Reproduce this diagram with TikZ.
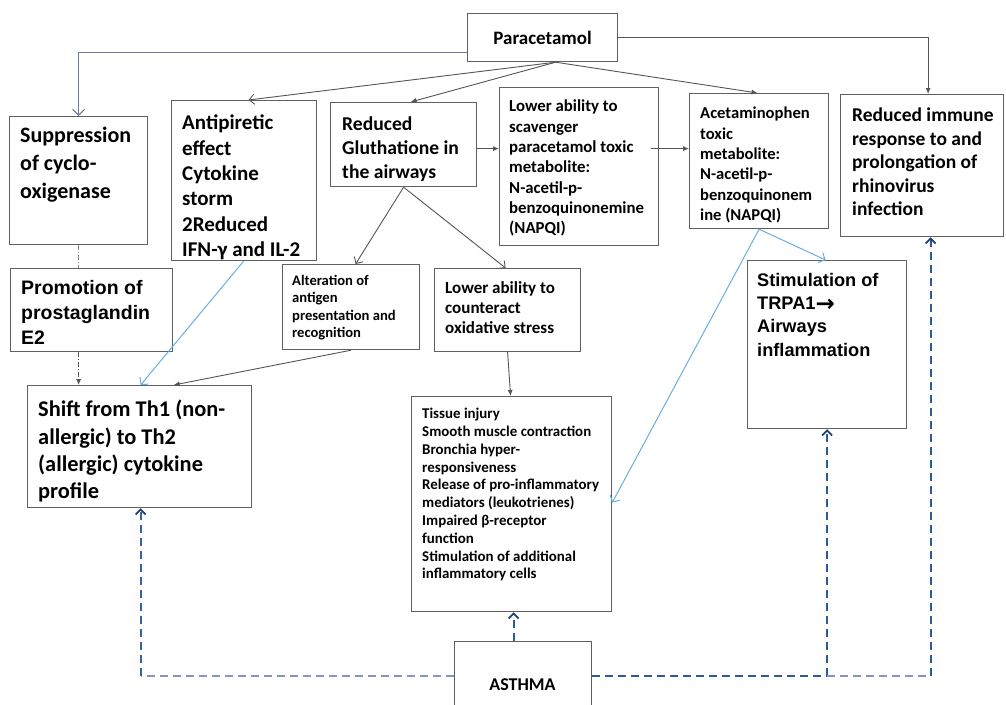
\documentclass[tikz,border=0pt]{standalone}
\usepackage{fontspec}
\setmainfont{Carlito}
\newfontfamily\arialf{Liberation Sans}
\newfontfamily\dejaf{DejaVu Sans}
\usetikzlibrary{arrows.meta,calc}
\definecolor{boxc}{HTML}{606060}
\definecolor{arrc}{HTML}{555555}
\definecolor{slate}{HTML}{6A7A98}
\definecolor{lblue}{HTML}{6AAEE6}
\definecolor{dblue}{HTML}{2D5A97}
\definecolor{mblue}{HTML}{8296C2}
\definecolor{navy}{HTML}{1F3F7A}
\begin{document}
\begin{tikzpicture}[x=1pt,y=-1pt,
 boxs/.style={draw=boxc, line width=1.2pt, fill=white, inner sep=0pt, anchor=north west},
 txt/.style={anchor=north west, inner sep=0pt, align=left},
 garr/.style={draw=arrc, line width=0.9pt, -{Latex[length=6pt,width=5pt]}},
 varr/.style={draw=arrc, line width=0.9pt, -{Straight Barb[length=5pt,width=10pt]}},
 barr/.style={draw=lblue, line width=1pt, -{Straight Barb[length=5pt,width=11pt]}},
 dsh/.style={line width=2pt, dash pattern=on 8pt off 5pt},
 dtip/.style={-{Straight Barb[color=navy,length=5pt,width=10pt,line width=1.8pt]}}
]
\fill[white] (0,0) rectangle (1006,704);
\useasboundingbox (0,0) rectangle (1006,704);

% boxes
\node[boxs, minimum width=150pt, minimum height=48pt] (par) at (467,13) {};
\node[boxs, minimum width=138pt, minimum height=128pt] (sup) at (9,116) {};
\node[boxs, minimum width=145pt, minimum height=160pt] (anti) at (171,100) {};
\node[boxs, minimum width=146pt, minimum height=84pt] (glu) at (330,102) {};
\node[boxs, minimum width=159pt, minimum height=158pt] (sca) at (499,87) {};
\node[boxs, minimum width=139pt, minimum height=135pt] (ace) at (689,93) {};
\node[boxs, minimum width=163pt, minimum height=142pt] (imm) at (840,94) {};
\node[boxs, minimum width=162pt, minimum height=83pt] (pro) at (10,268) {};
\node[boxs, minimum width=137pt, minimum height=85pt] (alt) at (282,264) {};
\node[boxs, minimum width=146pt, minimum height=83pt] (cou) at (434,268) {};
\node[boxs, minimum width=159pt, minimum height=168pt] (trp) at (747,260) {};
\node[boxs, minimum width=224pt, minimum height=122pt] (shi) at (27,385) {};
\node[boxs, minimum width=200pt, minimum height=215pt] (tis) at (411,396) {};
\node[boxs, minimum width=137pt, minimum height=99pt] (ast) at (454,641) {};

% texts
\node[inner sep=0pt, font=\bfseries\fontsize{19}{22}\selectfont] (par-t) at (par.center) {Paracetamol};
\node[txt, font=\bfseries\fontsize{22}{28}\selectfont] (sup-t) at ([xshift=11pt,yshift=-11pt]sup.north west)
 {Suppression\\of cyclo-\\oxigenase};
\node[txt, font=\bfseries\fontsize{21}{25.3}\selectfont] (anti-t) at ([xshift=11pt,yshift=-15pt]anti.north west)
 {Antipiretic\\effect\\Cytokine\\storm\\2Reduced\\IFN-γ and IL-2};
\node[txt, font=\bfseries\fontsize{19.6}{23.7}\selectfont] (glu-t) at ([xshift=12pt,yshift=-15pt]glu.north west)
 {Reduced\\Gluthatione in\\the airways};
\node[txt, font=\bfseries\fontsize{16.8}{20.3}\selectfont] (sca-t) at ([xshift=10pt,yshift=-13pt]sca.north west)
 {Lower ability to\\scavenger\\paracetamol toxic\\metabolite:\\N-acetil-p-\\benzoquinonemine\\(NAPQI)};
\node[txt, font=\bfseries\fontsize{16.6}{20.3}\selectfont] (ace-t) at ([xshift=11pt,yshift=-14pt]ace.north west)
 {Acetaminophen\\toxic\\metabolite:\\N-acetil-p-\\benzoquinonem\\ine (NAPQI)};
\node[txt, font=\bfseries\fontsize{19.5}{23.4}\selectfont] (imm-t) at ([xshift=12pt,yshift=-14pt]imm.north west)
 {Reduced immune\\response to and\\prolongation of\\rhinovirus\\infection};
\node[txt, font=\arialf\bfseries\fontsize{19.5}{25}\selectfont] (pro-t) at ([xshift=11pt,yshift=-12pt]pro.north west)
 {Promotion of\\prostaglandin\\E2};
\node[txt, font=\bfseries\fontsize{14.6}{17.3}\selectfont] (alt-t) at ([xshift=10pt,yshift=-11pt]alt.north west)
 {Alteration of\\antigen\\presentation and\\recognition};
\node[txt, font=\bfseries\fontsize{17}{20}\selectfont] (cou-t) at ([xshift=11pt,yshift=-13pt]cou.north west)
 {Lower ability to\\counteract\\oxidative stress};
\node[txt, font=\arialf\bfseries\fontsize{18.2}{23.3}\selectfont] (trp-t) at ([xshift=10pt,yshift=-13pt]trp.north west)
 {Stimulation of\\TRPA1\raisebox{-1.5pt}{\dejaf\fontsize{23}{23}\selectfont →}\\Airways\\inflammation};
\node[txt, font=\bfseries\fontsize{22.4}{27.3}\selectfont] (shi-t) at ([xshift=11pt,yshift=-15pt]shi.north west)
 {Shift from Th1 (non-\\allergic) to Th2\\(allergic) cytokine\\profile};
\node[txt, font=\bfseries\fontsize{14.9}{17.8}\selectfont] (tis-t) at ([xshift=11pt,yshift=-12pt]tis.north west)
 {Tissue injury\\Smooth muscle contraction\\Bronchia hyper-\\responsiveness\\Release of pro-inflammatory\\mediators (leukotrienes)\\Impaired β-receptor\\function\\Stimulation of additional\\inflammatory cells};
\node[inner sep=0pt, anchor=base, font=\bfseries\fontsize{18}{22}\selectfont] (ast-t) at (522.5,690) {ASTHMA};

% connectors from Paracetamol
\draw[draw=slate, line width=1pt, -{Straight Barb[length=6pt,width=12pt]}] ([yshift=-15pt]par.west) -| (sup.north);
\draw[garr] ([yshift=0pt]par.east) -| ([xshift=6pt]imm.north);
\coordinate (ps) at ([xshift=13pt]par.south);
\draw[varr] (ps) -- ([xshift=4.5pt]anti.north);
\draw[garr] (ps) -- ([xshift=7pt]glu.north);
\draw[garr] (ps) -- ([xshift=-1.5pt]ace.north);

% gluthatione chain
\coordinate (g1) at ([yshift=-4pt]glu.east);
\draw[garr] (g1) -- (g1 -| sca.west);
\draw[garr] ([xshift=-8pt]g1 -| sca.east) -- (g1 -| ace.west);
\draw[varr] (glu.south) -- ([xshift=4.5pt]alt.north);
\draw[varr] (glu.south) -- ([xshift=-2pt]cou.north);
\draw[garr] (cou.south) -- ([xshift=-1pt]tis.north);
\draw[garr] (alt.south) -- ([xshift=34pt]shi.north);

% left column
\draw[draw=arrc!70, line width=1pt, dash pattern=on 5pt off 2pt on 1pt off 2pt] (sup.south) -- (sup.south |- pro.north);
\draw[garr, dash pattern=on 5pt off 2pt on 1pt off 2pt] (sup.south |- pro.south) -- (sup.south |- shi.north);
\draw[barr] ([xshift=-0.5pt]anti.south) -- ([xshift=1pt]shi.north);

% NAPQI blue arrows
\draw[barr] (ace.south) -- ([xshift=-1.5pt]trp.north);
\draw[barr] (ace.south) -- ([yshift=1.5pt]tis.east);

% asthma dashed connectors
\coordinate (aw) at ([yshift=15.5pt]ast.west);
\coordinate (ae) at ([yshift=15.5pt]ast.east);
\coordinate (lc) at ([xshift=1pt]shi.south |- aw);
\draw[dsh, draw=mblue] (aw) -- (lc);
\draw[dsh, draw=dblue!85!mblue, dtip] (lc) -- ([xshift=1pt]shi.south);
\coordinate (rc) at (trp.south |- ae);
\draw[dsh, draw=dblue] (ae) -- (rc);
\draw[dsh, draw=dblue, dtip] (rc) -- (trp.south);
\coordinate (rc2) at ([xshift=8.5pt]imm.south |- ae);
\draw[dsh, draw=mblue] (rc) -- (rc2);
\draw[dsh, draw=dblue, dtip] (rc2) -- ([xshift=8.5pt]imm.south);
\draw[dsh, draw=dblue, dtip] ([xshift=-9.5pt]ast.north) -- ([xshift=-9.5pt]ast.north |- tis.south);
\end{tikzpicture}
\end{document}
